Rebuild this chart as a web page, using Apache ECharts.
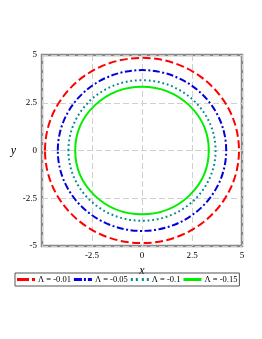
<!DOCTYPE html>
<html><head><meta charset="utf-8">
<script src="https://cdn.jsdelivr.net/npm/echarts@6/dist/echarts.min.js"></script>
<style>html,body{margin:0;padding:0;background:#fff}#c{width:262px;height:339px}</style>
</head><body><div id="c"></div>
<script>
// Curves are circles centred at the origin; radius
const names = ['Λ = -0.01', 'Λ = -0.05', 'Λ = -0.1', 'Λ = -0.15'];
const radii = [4.85, 4.21, 3.68, 3.34];
const colors = ['#ff0000', '#0000dd', '#008b8b', '#00ee00'];
const dashes = [[8, 3.5], [7, 2.5, 2, 2.5], [1.8, 2.8], null];
const legendIcons = [
  'path://M0,0h12v3h-12z M15,0h3v3h-3z',
  'path://M0,0h8v3h-8z M10,0h2v3h-2z M14,0h4v3h-4z',
  'path://M0,0h2v3h-2z M5,0h2v3h-2z M11,0h2v3h-2z M16,0h2v3h-2z',
  'path://M0,0h18v3h-18z'
];
const xTicks = [-5, -2.5, 0, 2.5, 5];
const yTicks = [-5, -2.5, 0, 2.5, 5];

const font = 'Liberation Serif';
const chart = echarts.init(document.getElementById('c'));
const series = names.map((n, i) => ({
  name: n,
  type: 'custom',
  coordinateSystem: 'cartesian2d',
  itemStyle: { color: colors[i] },
  encode: { x: 0, y: 1 },
  data: [[0, 0, radii[i]]],
  renderItem: function (params, api) {
    const r = api.value(2);
    const c = api.coord([api.value(0), api.value(1)]);
    const ex = api.coord([api.value(0) + r, api.value(1)]);
    const ey = api.coord([api.value(0), api.value(1) + r]);
    return {
      type: 'ellipse',
      shape: { cx: c[0], cy: c[1], rx: ex[0] - c[0], ry: c[1] - ey[1] },
      style: { fill: null, stroke: colors[i], lineWidth: 2, lineDash: dashes[i] || null }
    };
  }
}));
chart.setOption({
  animation: false,
  grid: { left: 42, right: 20, top: 55, bottom: 93, show: true, borderColor: '#888888', borderWidth: 2.5, backgroundColor: 'transparent' },
  xAxis: {
    type: 'value', min: -5, max: 5, interval: 2.5,
    name: 'x', nameLocation: 'middle', nameGap: 11,
    nameTextStyle: { fontFamily: font, fontStyle: 'italic', fontSize: 12, color: '#000' },
    axisLine: { show: false }, axisTick: { show: false },
    axisLabel: { fontFamily: font, fontSize: 9, color: '#000', margin: 5,
      formatter: v => (xTicks.indexOf(v) > 0 ? String(v) : '') },
    splitLine: { show: true, lineStyle: { color: '#d0d0d0', type: [6, 3], width: 1 } }
  },
  yAxis: {
    type: 'value', min: -5, max: 5, interval: 2.5,
    name: 'y', nameLocation: 'middle', nameGap: 26, nameRotate: 0,
    nameTextStyle: { fontFamily: font, fontStyle: 'italic', fontSize: 12, color: '#000' },
    axisLine: { show: false }, axisTick: { show: false },
    axisLabel: { fontFamily: font, fontSize: 9, color: '#000', margin: 5,
      formatter: v => (yTicks.indexOf(v) >= 0 ? String(v) : '') },
    splitLine: { show: true, lineStyle: { color: '#d0d0d0', type: [6, 3], width: 1 } }
  },
  legend: {
    left: 15, top: 273, orient: 'horizontal',
    borderColor: '#555', borderWidth: 1, padding: [2, 2],
    itemGap: 3, itemWidth: 18, itemHeight: 3,
    textStyle: { fontFamily: font, fontSize: 8.5, color: '#000', padding: [0, 0, 0, -2] },
    data: names.map((n, i) => ({ name: n, icon: legendIcons[i], itemStyle: { color: colors[i] } }))
  },
  series: series
});
</script></body></html>
